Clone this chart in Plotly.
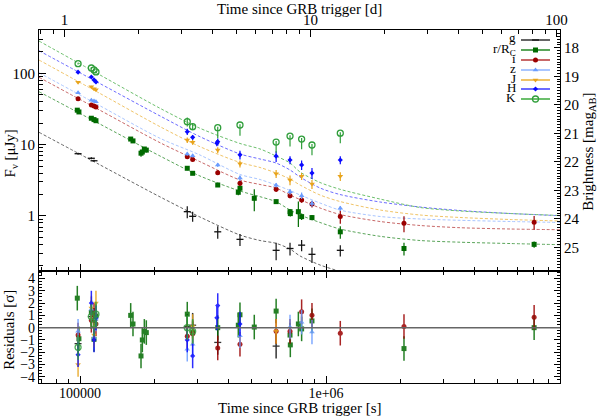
import plotly.graph_objects as go

# ---------------- data ----------------
# g band
G_T = [98200, 111200, 114000, 272900, 287000, 363000, 447000, 627000, 714000, 796000, 877000, 1143000]
G_F = [7.48, 6.45, 5.95, 1.15, 0.99, 0.60, 0.47, 0.33, 0.35, 0.39, 0.29, 0.33]
G_E = [0.25, 0.2, 0.2, 0.22, 0.16, 0.12, 0.09, 0.09, 0.07, 0.07, 0.07, 0.06]
G_R = [-1.3, 0.9, 0.6, 0.1, 0.2, -1.2, None, -1.5, None, None, None, None]

# r / Rc band
R_T = [97500, 99000, 111200, 114000, 116100, 160700, 164200, 177000, 179200, 182600, 186000,
       272900, 287000, 363000, 440000, 447000, 511000, 627000, 714000, 716000, 772000, 796000,
       877000, 1143000, 2075000, 7015000]
R_F = [30.5, 28.8, 23.5, 22.5, 21.7, 12.0, 11.3, 7.6, 7.9, 8.7, 8.4,
       4.67, 3.97, 2.72, 2.15, 2.45, 1.77, 1.59, 1.15, 1.08, 1.15, 0.98,
       0.95, 0.60, 0.35, 0.40]
R_E = [1.0, 1.0, 0.8, 0.8, 0.8, 0.6, 0.6, 0.8, 0.6, 0.6, 0.6,
       0.25, 0.2, 0.15, 0.2, 0.2, 0.6, 0.12, 0.1, 0.1, 0.45, 0.1,
       0.08, 0.12, 0.07, 0.04]
R_R = [2.4, -0.9, 1.25, -0.95, 0.95, 1.0, 0.3, -2.3, -1.0, -0.3, -0.4,
       1.1, -0.4, 0.0, 0.2, 1.05, 0.05, 1.35, -0.6, -1.4, 0.3, -0.1,
       0.55, None, -1.7, 0.0]

# i band
I_T = [98200, 111200, 114000, 116100, 272900, 287000, 363000, 447000, 627000, 714000, 796000,
       877000, 1143000, 2075000, 7015000]
I_F = [44, 36, 35, 33.7, 6.8, 6.2, 4.05, 2.88, 2.37, 1.93, 1.68, 1.47, 0.98, 0.79, 0.82]
I_E = [1.5, 1.2, 1.2, 1.2, 0.4, 0.35, 0.3, 0.25, 0.2, 0.15, 0.15, 0.15, 0.2, 0.2, 0.18]
I_R = [-0.6, 0.6, 1.0, 0.3, -0.7, -0.5, -1.65, -1.35, -0.3, -0.3, 1.3, 1.0, -0.45, 0.1, 0.85]

# z band
Z_T = [98200, 111200, 114000, 116100, 272900, 287000, 363000, 447000, 627000, 714000, 796000,
       877000, 1143000]
Z_F = [53.6, 42, 41, 40, 7.4, 7.0, 5.2, 3.4, 2.7, 2.19, 1.93, 1.5, 1.28]
Z_E = [1.5, 1.2, 1.2, 1.2, 0.4, 0.4, 0.35, 0.3, 0.2, 0.2, 0.2, 0.15, 0.1]
Z_R = [-0.3, 1.5, -0.8, 0.7, -1.75, -1.35, None, -0.65, None, 0.05, 0.45, -0.35, None]

# J band
J_T = [98200, 111200, 114000, 116100, 272900, 287000, 363000, 447000, 627000, 714000, 796000,
       877000, 1143000]
J_F = [75, 65, 61, 59, 11.6, 10.8, 8.4, 5.4, 3.9, 3.2, 3.6, 2.8, 3.6]
J_E = [2.5, 2, 2, 2, 1.0, 0.8, 0.8, 0.6, 0.5, 0.5, 0.4, 0.4, 0.5]
J_R = [-3.0, 1.6, -0.6, 2.0, None, 0.1, None, None, -0.3, None, None, None, None]

# H band
H_T = [98200, 111200, 114000, 116100, 272900, 287000, 360000, 363000, 447000, 627000, 714000,
       796000, 877000, 1143000]
H_F = [104, 89, 81, 76, 15.2, 12.7, 10.5, 11.0, 7.2, 6.9, 6.1, 5.2, 4.0, 6.1]
H_E = [3, 3, 2.5, 2.5, 1.5, 1.0, 1.0, 1.2, 1.0, 1.2, 0.8, 0.8, 0.7, 0.8]
H_R = [-2.2, 2.0, -1.0, 0.8, -1.0, -2.3, 0.8, 1.8, 0.3, None, None, None, None, None]

# K band
K_T = [98200, 111200, 114000, 116100, 272900, 287000, 363000, 447000, 627000, 714000, 796000,
       877000, 1143000]
K_F = [137, 119, 112, 105, 21.0, 17.9, 17.3, 18.9, 10.9, 13.2, 12.0, 9.9, 14.5]
K_EU = [4, 4, 4, 4, 3, 2, 0.5, 0.5, 0.4, 0.4, 0.4, 0.3, 0.4]
K_ED = [4, 4, 4, 4, 3, 2, 5, 5.5, 3.2, 3.8, 3.4, 2.8, 4.0]
K_R = [-1.6, 0.9, 0.3, 1.1, 0.0, -0.3, None, None, None, None, None, None, None]

# model curves (flux read at a set of times)
MODEL_T = [68100, 120600, 211500, 307400, 447100, 539200, 626200, 713900, 784300, 945500,
           1140000, 1658000, 2411000, 3505000, 5598000, 8937000]
G_MODEL = [14.93, 5.21, 1.853, 0.968, 0.541, 0.453, 0.414, 0.344, 0.275, 0.2055, 0.1666, 0.1077,
           None, None, None, None]
R_MODEL = [55.4, 19.45, 6.94, 3.64, 2.24, 1.866, 1.587, 1.214, 1.033, 0.811, 0.657, 0.519, 0.453,
           0.429, 0.411, 0.396]
I_MODEL = [88.2, 30.4, 10.67, 5.78, 3.20, 2.765, 2.47, 1.97, 1.70, 1.295, 1.05, 0.837, 0.736,
           0.685, 0.657, 0.642]
Z_MODEL = [102.3, 35.1, 12.3, 7.17, 3.82, 3.25, 2.72, 2.28, 1.97, 1.52, 1.21, 0.984, 0.908,
           0.870, 0.837, 0.811]
J_MODEL = [154.2, 52.3, 17.9, 9.38, 5.63, 4.79, 4.01, 3.30, 2.72, 1.97, 1.597, 1.214, 1.033,
           0.953, 0.893, 0.851]
H_MODEL = [208, 71.9, 25.3, 12.95, 7.41, 6.30, 5.54, 4.42, 3.52, 2.47, 2.00, 1.572, 1.337,
           1.194, 1.084, 1.01]
K_MODEL = [284.7, 95.0, 32.4, 17.0, 10.4, 8.71, 6.94, 5.54, 4.14, 2.95, 2.37, 1.73, 1.316,
           1.175, 1.084, 1.016]

BAND_LABELS = ["g", "r/R<sub>C</sub>", "i", "z", "J", "H", "K"]

# tick labels
X_TICKS = [1e5, 1e6]
X_TICKTEXT = ["100000", "1e+06"]
DAY_TICKS = [1, 10, 100]
Y_TICKS = [1, 10, 100]
MAG_TICKS = [18, 19, 20, 21, 22, 23, 24, 25]
RES_TICKS = [-4, -3, -2, -1, 0, 1, 2, 3, 4]

# ---------------- styling ----------------
FONT = "Liberation Serif"
bands = [
    dict(T=G_T, F=G_F, EU=G_E, ED=G_E, R=G_R, M=G_MODEL, c="#111111", mc="#666666",
         sym="line-ew", size=5, lw=1.3),
    dict(T=R_T, F=R_F, EU=R_E, ED=R_E, R=R_R, M=R_MODEL, c="#006a00", mc="#5aa55a",
         sym="square", size=5, lw=0),
    dict(T=I_T, F=I_F, EU=I_E, ED=I_E, R=I_R, M=I_MODEL, c="#9b0000", mc="#c86868",
         sym="circle", size=5, lw=0),
    dict(T=Z_T, F=Z_F, EU=Z_E, ED=Z_E, R=Z_R, M=Z_MODEL, c="#6a9cff", mc="#aac6ff",
         sym="triangle-up", size=5, lw=0),
    dict(T=J_T, F=J_F, EU=J_E, ED=J_E, R=J_R, M=J_MODEL, c="#e8a41c", mc="#f0c468",
         sym="triangle-down", size=5, lw=0),
    dict(T=H_T, F=H_F, EU=H_E, ED=H_E, R=H_R, M=H_MODEL, c="#0a0aff", mc="#6c6cff",
         sym="diamond", size=4, lw=0),
    dict(T=K_T, F=K_F, EU=K_EU, ED=K_ED, R=K_R, M=K_MODEL, c="#2f9e3a", mc="#6cbf6c",
         sym="circle-open", size=6, lw=1.3),
]

fig = go.Figure()

# model lines
for b in bands:
    fig.add_trace(go.Scatter(
        x=MODEL_T, y=b["M"], mode="lines", xaxis="x", yaxis="y",
        line=dict(color=b["mc"], width=1, dash="3px,2px", shape="spline", smoothing=0.8),
        hoverinfo="skip"))

# data points
for b in bands:
    fig.add_trace(go.Scatter(
        x=b["T"], y=b["F"], mode="markers", xaxis="x", yaxis="y",
        marker=dict(symbol=b["sym"], size=b["size"], color=b["c"],
                    line=dict(color=b["c"], width=b["lw"])),
        error_y=dict(type="data", symmetric=False, array=b["EU"], arrayminus=b["ED"],
                     color=b["c"], thickness=1.2, width=0)))

# residuals
for b in bands:
    xs = [t for t, r in zip(b["T"], b["R"]) if r is not None]
    rs = [r for r in b["R"] if r is not None]
    fig.add_trace(go.Scatter(
        x=xs, y=rs, mode="markers", xaxis="x2", yaxis="y2",
        marker=dict(symbol=b["sym"], size=b["size"], color=b["c"],
                    line=dict(color=b["c"], width=b["lw"])),
        error_y=dict(type="constant", value=1.0, color=b["c"], thickness=1.5, width=0),
        opacity=0.85))

# dummy trace so the top (days) and right (mag) axes are drawn
fig.add_trace(go.Scatter(x=[None], y=[None], xaxis="x3", yaxis="y3", mode="markers",
                         hoverinfo="skip"))

# legend (drawn by hand: labels to the left of the samples)
LEG_Y = [40, 50, 60, 70, 80, 89, 99]
for b, ly in zip(bands, LEG_Y):
    fig.add_trace(go.Scatter(x=[521, 550], y=[ly, ly], mode="lines", xaxis="x4", yaxis="y4",
                             line=dict(color=b["mc"], width=2), hoverinfo="skip"))
    fig.add_trace(go.Scatter(x=[535.5], y=[ly], mode="markers", xaxis="x4", yaxis="y4",
                             marker=dict(symbol=b["sym"], size=b["size"], color=b["c"],
                                         line=dict(color=b["c"], width=b["lw"])),
                             hoverinfo="skip"))

LEG_TXT_Y = [37, 49, 58, 68, 78, 87, 97]
annotations = []
for lab, ty in zip(BAND_LABELS, LEG_TXT_Y):
    annotations.append(dict(text=lab, x=518, y=ty, xref="x4", yref="y4", xanchor="right",
                            yanchor="middle", showarrow=False,
                            font=dict(family=FONT, size=13, color="black")))

XR = [4.8333, 6.9512]
DAY_OFF = 4.93651
minor_s = [7e4, 8e4, 9e4] + [k * 1e5 for k in range(2, 10)] + [k * 1e6 for k in range(2, 9)]
minor_d = [0.8, 0.9] + list(range(2, 10)) + [k * 10 for k in range(2, 10)]
minor_y = [k / 10 for k in range(2, 10)] + list(range(2, 10)) + [k * 10 for k in range(2, 10)] + [200, 300]

axcommon = dict(showline=True, linecolor="black", linewidth=1.2, showgrid=False, zeroline=False,
                tickcolor="black")
TF = dict(family=FONT, size=15, color="black")

# plot area at x 39..560, y 30..383
fig.update_layout(
    width=598, height=419, margin=dict(l=39, r=38, t=30, b=36, autoexpand=False),
    paper_bgcolor="white", plot_bgcolor="white", showlegend=False,
    font=dict(family=FONT, size=15, color="black"),
    xaxis=dict(type="log", range=XR, domain=[0, 1], anchor="y", showticklabels=False,
               ticks="inside", ticklen=7, tickvals=X_TICKS, mirror=True,
               minor=dict(tickvals=minor_s, ticks="inside", ticklen=4, tickcolor="black"),
               tickfont=TF, **axcommon),
    yaxis=dict(type="log", range=[-0.7714, 2.6087], domain=[0.3173, 1], anchor="x",
               ticks="inside", ticklen=7, tickvals=Y_TICKS, ticktext=["1", "10", "100"],
               mirror=True,
               minor=dict(tickvals=minor_y, ticks="inside", ticklen=4, tickcolor="black"),
               tickfont=TF, **axcommon),
    xaxis2=dict(type="log", range=XR, domain=[0, 1], anchor="y2", ticks="inside", ticklen=7,
                tickvals=X_TICKS, ticktext=X_TICKTEXT, mirror="ticks", ticklabelstandoff=-3,
                minor=dict(tickvals=minor_s, ticks="inside", ticklen=4, tickcolor="black"),
                tickfont=dict(family=FONT, size=14, color="black"), **axcommon),
    yaxis2=dict(range=[-4.5, 4.61], domain=[0, 0.3173], anchor="x2", ticks="inside", ticklen=6,
                tickvals=RES_TICKS, ticktext=[str(v).replace("-", "\u2212") for v in RES_TICKS],
                mirror="ticks",
                minor=dict(dtick=0.25, ticks="inside", ticklen=3, tickcolor="black"),
                tickfont=dict(family=FONT, size=14, color="black"), **axcommon),
    xaxis3=dict(type="log", range=[XR[0] - DAY_OFF, XR[1] - DAY_OFF], overlaying="x", side="top",
                anchor="y", ticks="inside", ticklen=7, tickvals=DAY_TICKS,
                ticktext=["1", "10", "100"], ticklabelstandoff=-2,
                minor=dict(tickvals=minor_d, ticks="inside", ticklen=4, tickcolor="black"),
                tickfont=TF, **axcommon),
    yaxis3=dict(range=[25.829, 17.378], overlaying="y", side="right", anchor="x",
                ticks="inside", ticklen=6, tickvals=MAG_TICKS,
                minor=dict(dtick=0.1, ticks="inside", ticklen=3, tickcolor="black"),
                tickfont=TF, **axcommon),
    xaxis4=dict(range=[39, 560], overlaying="x", visible=False),
    yaxis4=dict(range=[271, 30], overlaying="y", visible=False),
    shapes=[dict(type="line", xref="x2 domain", yref="y2", x0=0, x1=1, y0=0, y1=0,
                 line=dict(color="#666666", width=1.5))],
)

TITLE_FONT = dict(family=FONT, size=15, color="black")
annotations += [
    dict(text="Time since GRB trigger [d]", x=0.5, y=1.060, xref="paper", yref="paper",
         xanchor="center", yanchor="middle", showarrow=False, font=TITLE_FONT),
    dict(text="Time since GRB trigger [s]", x=0.5, y=-0.072, xref="paper", yref="paper",
         xanchor="center", yanchor="middle", showarrow=False, font=TITLE_FONT),
    dict(text="F<sub>ν</sub> [μJy]", x=-0.054, y=0.65, xref="paper", yref="paper",
         xanchor="center", yanchor="middle", showarrow=False, textangle=-90, font=TITLE_FONT),
    dict(text="Residuals [σ]", x=-0.058, y=0.150, xref="paper", yref="paper",
         xanchor="center", yanchor="middle", showarrow=False, textangle=-90, font=TITLE_FONT),
    dict(text="Brightness [mag<sub>AB</sub>]", x=1.055, y=0.654, xref="paper", yref="paper",
         xanchor="center", yanchor="middle", showarrow=False, textangle=-90, font=TITLE_FONT),
]
fig.update_layout(annotations=annotations)

# the page's default body margin would shift the figure by 8 px; remove it
fig.write_html("out.html", config={"displayModeBar": False},
               post_script="document.body.style.margin='0px';")
